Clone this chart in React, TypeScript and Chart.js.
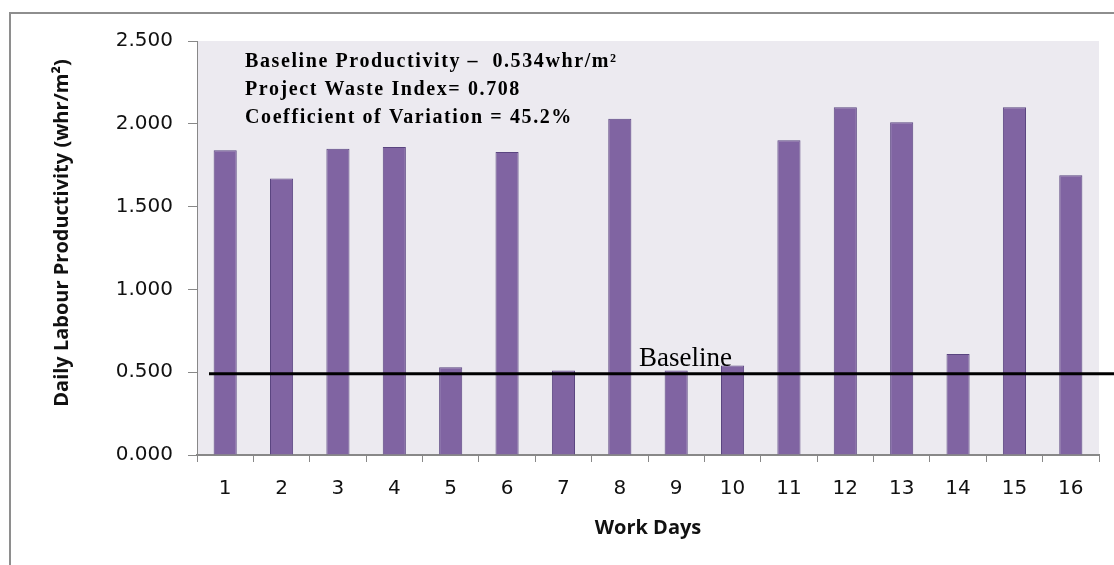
import React, { useEffect, useRef } from "react";
import { Chart, registerables } from "chart.js";

Chart.register(...registerables);

const workDays = ["1", "2", "3", "4", "5", "6", "7", "8", "9", "10", "11", "12", "13", "14", "15", "16"];
const productivity = [1.84, 1.67, 1.85, 1.86, 0.53, 1.83, 0.51, 2.03, 0.51, 0.54, 1.9, 2.1, 2.01, 0.61, 2.1, 1.69];
const baselineLevel = 0.49;
const baselineLabel = "Baseline";
const infoLines = [
  "Baseline Productivity \u2013  0.534whr/m\u00B2",
  "Project Waste Index= 0.708",
  "Coefficient of Variation = 45.2%",
];
const yAxisTitle = "Daily Labour Productivity (whr/m\u00B2)";
const xAxisTitle = "Work Days";
const yMin = 0;
const yMax = 2.5;
const yStep = 0.5;

const W = 1114;
const H = 565;

const decorPlugin = {
  id: "decor",
  beforeDraw(chart: any) {
    const { ctx, chartArea } = chart;
    ctx.save();
    ctx.fillStyle = "#ffffff";
    ctx.fillRect(0, 0, chart.width, chart.height);
    ctx.fillStyle = "#ECEAF0";
    ctx.fillRect(chartArea.left, chartArea.top, chartArea.right - chartArea.left, chartArea.bottom - chartArea.top);
    ctx.strokeStyle = "#8E8E8E";
    ctx.lineWidth = 2;
    ctx.beginPath();
    ctx.moveTo(10, chart.height);
    ctx.lineTo(10, 13);
    ctx.lineTo(chart.width, 13);
    ctx.stroke();
    ctx.restore();
  },
  afterDraw(chart: any) {
    const { ctx, chartArea, scales } = chart;
    const y = scales.y.getPixelForValue(baselineLevel);
    ctx.save();
    ctx.strokeStyle = "#000000";
    ctx.lineWidth = 3;
    ctx.beginPath();
    ctx.moveTo(chartArea.left + 12, y);
    ctx.lineTo(chart.width, y);
    ctx.stroke();

    ctx.fillStyle = "#000000";
    ctx.textBaseline = "alphabetic";
    ctx.font = "27px 'Liberation Serif'";
    const mid = scales.x.getPixelForValue(7.5);
    ctx.fillText(baselineLabel, mid - 9, y - 8);

    ctx.font = "bold 20px 'Liberation Serif'";
    (ctx as any).letterSpacing = "1.6px";
    infoLines.forEach((line, i) => {
      ctx.fillText(line, chartArea.left + 48, 67 + i * 28);
    });
    (ctx as any).letterSpacing = "0px";

    // y axis title
    ctx.translate(62, 233);
    ctx.rotate(-Math.PI / 2);
    ctx.textAlign = "center";
    ctx.textBaseline = "middle";
    ctx.fillStyle = "#111111";
    ctx.font = "bold 20px 'Open Sans'";
    ctx.fillText(yAxisTitle, 0, 0);
    ctx.restore();
  },
};

export default function App() {
  const ref = useRef<HTMLCanvasElement | null>(null);
  useEffect(() => {
    if (!ref.current) return;
    const chart = new Chart(ref.current, {
      type: "bar",
      data: {
        labels: workDays,
        datasets: [
          {
            data: productivity,
            backgroundColor: "#8064A2",
            borderColor: "#5A4580",
            borderWidth: 1,
            categoryPercentage: 1,
            barPercentage: 0.41,
          },
        ],
      },
      options: {
        animation: false,
        responsive: true,
        maintainAspectRatio: false,
        layout: { padding: { left: 0, top: 41, right: 15, bottom: 0 } },
        plugins: { legend: { display: false }, tooltip: { enabled: false } },
        scales: {
          x: {
            grid: { display: true, drawOnChartArea: false, drawTicks: true, tickLength: 7, color: "#888888", offset: true },
            border: { display: true, color: "#888888", width: 2 },
            ticks: { color: "#111111", font: { family: "'DejaVu Sans'", size: 20 }, padding: 15 },
            title: {
              display: true,
              text: xAxisTitle,
              color: "#111111",
              font: { family: "'Open Sans'", size: 20, weight: "bold" },
              padding: { top: 0, bottom: 25 },
            },
            afterFit(scale: any) {
              scale.height = 110;
            },
          },
          y: {
            min: yMin,
            max: yMax,
            grid: { display: true, drawOnChartArea: false, drawTicks: true, tickLength: 9, color: "#888888" },
            border: { display: true, color: "#888888", width: 1 },
            ticks: {
              stepSize: yStep,
              color: "#111111",
              font: { family: "'DejaVu Sans'", size: 20 },
              padding: 15,
              callback: (v: any) => Number(v).toFixed(3),
            },
            title: { display: false, text: yAxisTitle },
            afterFit(scale: any) {
              scale.width = 197;
            },
          },
        },
      },
      plugins: [decorPlugin],
    });
    return () => chart.destroy();
  }, []);
  return (
    <div style={{ position: "fixed", left: 0, top: 0, width: W, height: H, background: "#fff" }}>
      <canvas ref={ref} />
    </div>
  );
}
